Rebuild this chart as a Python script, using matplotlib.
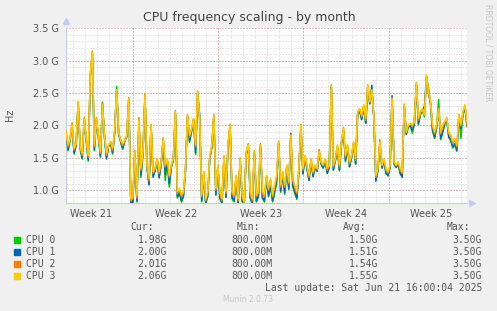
import matplotlib
matplotlib.use("Agg")
import matplotlib.pyplot as plt
from matplotlib.patches import Rectangle
import numpy as np

# munin "by month" graph, one sample every 4 hours (6 per day), 33 days
samples_per_day = 6

cpu3 = [1.90, 1.70, 1.80, 2.01, 1.65, 1.72, 2.37, 1.67, 1.57, 2.11,
        1.80, 1.54, 2.78, 3.13, 1.70, 2.11, 1.85, 1.60, 2.32, 1.85,
        1.57, 1.70, 1.75, 1.65, 1.90, 2.55, 1.90, 1.77, 1.72, 1.77,
        1.85, 2.42, 0.87, 0.90, 1.60, 0.92, 2.08, 1.34, 1.60, 2.47,
        1.39, 1.18, 2.01, 1.29, 1.34, 1.49, 1.29, 1.44, 1.80, 1.39,
        1.49, 1.23, 1.39, 1.49, 2.21, 0.98, 1.03, 0.93, 0.98, 1.34,
        2.16, 1.85, 1.95, 2.11, 1.70, 2.52, 2.11, 0.93, 1.29, 0.87,
        0.98, 1.54, 1.70, 2.16, 1.03, 1.39, 0.98, 0.87, 1.54, 0.98,
        1.70, 2.01, 0.98, 0.93, 1.23, 0.87, 1.49, 0.93, 0.82, 1.60,
        1.70, 0.98, 0.87, 1.60, 0.93, 0.98, 1.70, 0.98, 0.93, 1.23,
        1.03, 1.18, 0.93, 1.08, 1.23, 1.75, 1.08, 1.29, 1.08, 1.39,
        1.13, 1.85, 1.18, 1.08, 0.98, 1.34, 2.01, 1.34, 1.54, 1.39,
        1.23, 1.49, 1.29, 1.39, 1.34, 1.60, 1.44, 1.39, 1.49, 1.34,
        1.39, 2.62, 1.39, 1.49, 1.70, 1.39, 1.75, 1.95, 1.54, 1.70,
        1.44, 1.54, 1.75, 1.49, 2.21, 2.26, 2.16, 2.32, 2.11, 2.62,
        2.37, 2.55, 2.16, 1.23, 1.34, 1.75, 1.39, 1.49, 1.34, 1.29,
        1.39, 2.42, 1.44, 1.39, 1.44, 1.34, 1.29, 2.32, 1.90, 2.01,
        2.03, 2.01, 2.06, 2.67, 2.11, 2.21, 2.26, 2.16, 2.78, 2.52,
        2.37, 2.01, 1.90, 2.01, 2.26, 1.90, 2.01, 2.06, 2.11, 1.90,
        1.85, 1.75, 1.80, 1.70, 2.16, 2.01, 2.21, 2.32, 2.06]

cpu2 = [1.91, 1.67, 1.79, 2.04, 1.62, 1.71, 2.36, 1.66, 1.54, 2.13,
        1.79, 1.51, 2.79, 3.15, 1.67, 2.12, 1.84, 1.57, 2.34, 1.84,
        1.54, 1.69, 1.75, 1.62, 1.89, 2.54, 1.89, 1.76, 1.69, 1.76,
        1.84, 2.43, 0.84, 0.87, 1.61, 0.88, 2.12, 1.31, 1.59, 2.49,
        1.38, 1.15, 2.02, 1.26, 1.33, 1.49, 1.26, 1.43, 1.81, 1.36,
        1.48, 1.20, 1.38, 1.50, 2.23, 0.95, 1.01, 0.90, 0.96, 1.33,
        2.17, 1.82, 1.94, 2.10, 1.67, 2.53, 2.10, 0.90, 1.28, 0.84,
        0.96, 1.53, 1.69, 2.17, 1.00, 1.38, 0.95, 0.84, 1.53, 0.95,
        1.69, 2.02, 0.95, 0.90, 1.22, 0.84, 1.50, 0.90, 0.80, 1.59,
        1.72, 0.95, 0.84, 1.61, 0.90, 0.96, 1.72, 0.95, 0.90, 1.22,
        1.00, 1.16, 0.90, 1.06, 1.21, 1.76, 1.05, 1.28, 1.05, 1.38,
        1.10, 1.86, 1.15, 1.05, 0.95, 1.33, 2.02, 1.31, 1.53, 1.37,
        1.20, 1.48, 1.26, 1.38, 1.32, 1.63, 1.43, 1.38, 1.48, 1.31,
        1.38, 2.63, 1.36, 1.48, 1.69, 1.36, 1.74, 1.97, 1.51, 1.69,
        1.41, 1.53, 1.74, 1.46, 2.20, 2.25, 2.13, 2.31, 2.08, 2.63,
        2.36, 2.54, 2.15, 1.20, 1.33, 1.78, 1.38, 1.48, 1.31, 1.27,
        1.38, 2.41, 1.43, 1.38, 1.43, 1.31, 1.26, 2.33, 1.89, 2.00,
        2.02, 1.99, 2.05, 2.66, 2.08, 2.20, 2.25, 2.15, 2.77, 2.51,
        2.36, 1.98, 1.87, 2.00, 2.25, 1.87, 1.98, 2.05, 2.12, 1.87,
        1.83, 1.72, 1.78, 1.67, 2.17, 1.99, 2.20, 2.31, 2.01]

cpu1 = [1.88, 1.63, 1.78, 1.99, 1.58, 1.70, 2.35, 1.65, 1.50, 2.09,
        1.78, 1.47, 2.76, 3.11, 1.63, 2.09, 1.83, 1.53, 2.31, 1.83,
        1.50, 1.68, 1.74, 1.58, 1.88, 2.53, 1.88, 1.75, 1.65, 1.75,
        1.83, 2.41, 0.81, 0.82, 1.58, 0.84, 2.06, 1.24, 1.57, 2.46,
        1.36, 1.08, 1.99, 1.20, 1.31, 1.47, 1.19, 1.41, 1.78, 1.24,
        1.46, 1.10, 1.36, 1.47, 2.19, 0.90, 0.97, 0.84, 0.92, 1.31,
        2.14, 1.76, 1.92, 2.09, 1.58, 2.50, 2.17, 0.84, 1.26, 0.80,
        0.92, 1.51, 1.67, 2.14, 0.94, 1.36, 0.89, 0.80, 1.51, 0.89,
        1.67, 1.99, 0.89, 0.84, 1.20, 0.80, 1.47, 0.84, 0.80, 1.57,
        1.68, 0.89, 0.80, 1.58, 0.84, 0.92, 1.68, 0.89, 0.84, 1.20,
        0.92, 1.10, 0.84, 1.00, 1.15, 1.73, 0.99, 1.26, 0.96, 1.36,
        1.03, 1.88, 1.08, 0.98, 0.88, 1.31, 1.99, 1.25, 1.51, 1.34,
        1.15, 1.46, 1.21, 1.36, 1.30, 1.58, 1.41, 1.35, 1.46, 1.26,
        1.36, 2.60, 1.31, 1.46, 1.67, 1.31, 1.72, 1.93, 1.46, 1.67,
        1.36, 1.51, 1.72, 1.41, 2.18, 2.23, 2.09, 2.29, 2.03, 2.60,
        2.34, 2.62, 2.13, 1.14, 1.31, 1.73, 1.35, 1.46, 1.26, 1.23,
        1.36, 2.46, 1.41, 1.36, 1.41, 1.26, 1.20, 2.30, 1.87, 1.98,
        2.00, 1.92, 2.03, 2.64, 2.03, 2.18, 2.23, 2.30, 2.75, 2.49,
        2.34, 1.93, 1.82, 1.98, 2.23, 1.80, 1.92, 2.03, 2.09, 1.82,
        1.78, 1.67, 1.72, 1.62, 2.14, 1.95, 2.18, 2.29, 2.00]

cpu0 = [1.87, 1.61, 1.77, 1.98, 1.56, 1.69, 2.34, 1.64, 1.48, 2.08,
        1.77, 1.45, 2.75, 3.10, 1.61, 2.08, 1.82, 1.51, 2.36, 1.82,
        1.48, 1.67, 1.73, 1.56, 1.87, 2.60, 1.87, 1.74, 1.63, 1.78,
        1.82, 2.40, 0.80, 0.80, 1.57, 0.82, 2.05, 1.20, 1.56, 2.45,
        1.35, 1.10, 1.98, 1.22, 1.30, 1.46, 1.21, 1.40, 1.77, 1.15,
        1.45, 1.05, 1.35, 1.46, 2.18, 0.88, 0.95, 0.82, 0.90, 1.30,
        2.13, 1.74, 1.91, 2.08, 1.55, 2.49, 2.08, 0.82, 1.25, 0.80,
        0.90, 1.50, 1.66, 2.13, 0.92, 1.35, 0.87, 0.80, 1.50, 0.90,
        1.66, 1.98, 0.87, 0.82, 1.19, 0.80, 1.46, 0.82, 0.80, 1.56,
        1.67, 0.87, 0.80, 1.57, 0.82, 0.90, 1.67, 0.87, 0.82, 1.19,
        0.90, 1.05, 0.82, 0.95, 1.10, 1.72, 0.97, 1.25, 0.94, 1.35,
        1.01, 1.82, 1.05, 0.95, 0.86, 1.30, 1.98, 1.27, 1.50, 1.33,
        1.16, 1.45, 1.22, 1.35, 1.29, 1.57, 1.40, 1.34, 1.45, 1.27,
        1.35, 2.59, 1.32, 1.45, 1.66, 1.30, 1.71, 1.92, 1.44, 1.66,
        1.37, 1.50, 1.71, 1.40, 2.17, 2.22, 2.10, 2.28, 2.04, 2.59,
        2.33, 2.52, 2.12, 1.16, 1.30, 1.72, 1.34, 1.45, 1.27, 1.22,
        1.35, 2.40, 1.40, 1.35, 1.40, 1.27, 1.22, 2.29, 1.86, 1.97,
        1.99, 1.88, 2.02, 2.63, 2.01, 2.17, 2.22, 2.13, 2.74, 2.58,
        2.33, 1.91, 1.80, 1.97, 2.40, 1.78, 1.88, 2.02, 2.08, 1.83,
        1.76, 1.65, 1.70, 1.60, 2.13, 1.80, 2.17, 2.28, 1.98]

series_names = ["CPU 0", "CPU 1", "CPU 2", "CPU 3"]
series_colors = ["#00CC00", "#0066B3", "#FF8000", "#FFCC00"]
cur_vals = ["1.98G", "2.00G", "2.01G", "2.06G"]
min_vals = ["800.00M", "800.00M", "800.00M", "800.00M"]
avg_vals = ["1.50G", "1.51G", "1.54G", "1.55G"]
max_vals = ["3.50G", "3.50G", "3.50G", "3.50G"]

week_labels = ["Week 21", "Week 22", "Week 23", "Week 24", "Week 25"]
week_start = 5.54 - 7  # day offset of the first week boundary (before the window)
y_ticks = [1.0, 1.5, 2.0, 2.5, 3.0, 3.5]

W, H = 497, 311
fig = plt.figure(figsize=(W / 100, H / 100), dpi=100)
fig.patch.set_facecolor("#F0F0F0")

left, right, top, bottom = 66, 467, 28.2, 203.3
ax = fig.add_axes([left / W, 1 - bottom / H, (right - left) / W, (bottom - top) / H])
ax.set_facecolor("white")

dot = (0, (1, 2))
# minor grid: every day, every 0.1G
for d in np.arange(week_start % 1, 33, 1.0):
    ax.axvline(d, color="#D4D4D4", lw=0.72, ls=dot, zorder=0)
for v in np.arange(0.9, 3.45, 0.1):
    ax.axhline(v, color="#D4D4D4", lw=0.72, ls=dot, zorder=0)
# major grid: weeks and 0.5G
for k in range(1, 5):
    ax.axvline(week_start + 7 * k, color="#E09090", lw=0.72, ls=dot, zorder=1)
for v in y_ticks:
    ax.axhline(v, color="#E09090", lw=0.72, ls=dot, zorder=1)

x = np.arange(len(cpu3)) / samples_per_day
for vals, col in zip([cpu0, cpu1, cpu2, cpu3], series_colors):
    ax.plot(x, vals, color=col, lw=1.1, zorder=3)

# axes: only left/bottom, light blue with arrows
for s in ["top", "right"]:
    ax.spines[s].set_visible(False)
for s in ["left", "bottom"]:
    ax.spines[s].set_color("#C4CCEE")
    ax.spines[s].set_linewidth(0.8)
ax.plot(0, 1.04, marker="^", ms=4, color="#C4CCEE", transform=ax.transAxes, clip_on=False)
ax.plot(1.012, 0, marker=">", ms=4, color="#C4CCEE", transform=ax.transAxes, clip_on=False)

ax.set_yticks(y_ticks)
ax.set_yticklabels(["%.1f G" % v for v in y_ticks])
ax.set_xticks([week_start + 7 * k + 3.5 for k in range(5)])
ax.set_xticklabels(week_labels)
ax.tick_params(axis="both", length=0, labelsize=7, colors="#555555")
ax.tick_params(axis="y", pad=5)
ax.tick_params(axis="x", pad=4)
ax.set_xlim(0, 33)
ax.set_ylim(0.8, 3.5)

fig.text(249 / W, 1 - 18 / H, "CPU frequency scaling - by month", ha="center",
         va="center", fontsize=9, color="#444444")
fig.text(10 / W, 1 - 115 / H, "Hz", rotation=90, ha="center", va="center",
         fontsize=7, color="#555555")
fig.text(488 / W, 1 - 53 / H, "RRDTOOL / TOBI OETIKER", rotation=270, ha="center",
         va="center", fontsize=5.5, color="#C8C8C8")

mono = dict(family="DejaVu Sans Mono", fontsize=7, color="#555555", va="center")
fy = lambda y: 1 - y / H
for txt, xr in zip(["Cur:", "Min:", "Avg:", "Max:"], [154, 260, 366, 470]):
    fig.text(xr / W, fy(227), txt, ha="right", **mono)
rows_y = [240, 252, 264, 276]
for k in range(4):
    y = rows_y[k]
    fig.patches.append(Rectangle((14 / W, fy(y + 3)), 6 / W, 6 / H,
                                 transform=fig.transFigure, color=series_colors[k]))
    fig.text(26 / W, fy(y), series_names[k], ha="left", **mono)
    fig.text(167 / W, fy(y), cur_vals[k], ha="right", **mono)
    fig.text(273 / W, fy(y), min_vals[k], ha="right", **mono)
    fig.text(378 / W, fy(y), avg_vals[k], ha="right", **mono)
    fig.text(482 / W, fy(y), max_vals[k], ha="right", **mono)
fig.text(482 / W, fy(288), "Last update: Sat Jun 21 16:00:04 2025", ha="right", **mono)
fig.text(248 / W, fy(300), "Munin 2.0.73", ha="center", va="center", fontsize=5.5,
         color="#C8C8C8")

fig.savefig("out.png", dpi=100, facecolor=fig.get_facecolor())
